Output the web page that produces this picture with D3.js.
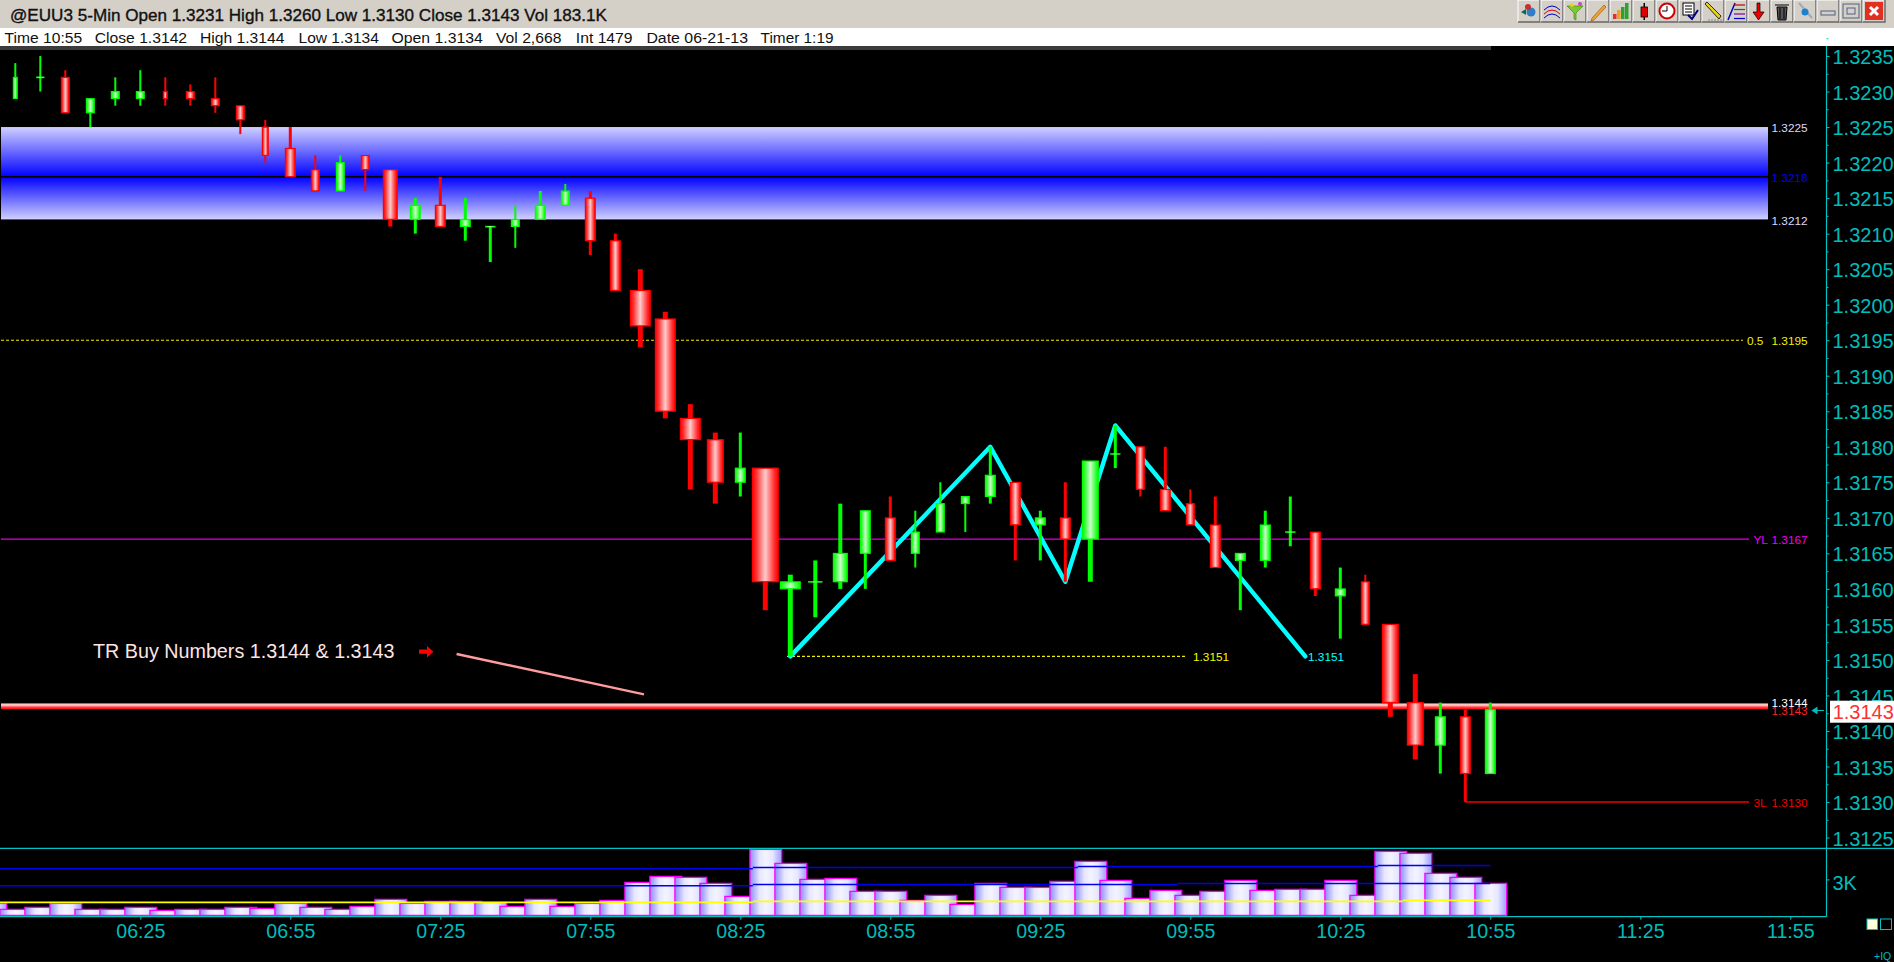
<!DOCTYPE html>
<html>
<head>
<meta charset="utf-8">
<title>@EUU3 5-Min</title>
<script src="https://cdn.jsdelivr.net/npm/d3@7/dist/d3.min.js"></script>
<style>
html,body{margin:0;padding:0;background:#000;overflow:hidden}
svg{display:block;font-family:"Liberation Sans",Arial,sans-serif}
</style>
</head>
<body>
<svg id="chart" width="1894" height="962"></svg>
<script>
// ---------- data ----------
const opens  = [1.3229,1.3232,1.3232,1.3227,1.3229,1.3229,1.3230,1.3230,1.3229,1.3228,1.3225,1.3222,1.3219,1.3216,1.3221,1.3219,1.3212,1.3214,1.3211,1.3211,1.3211,1.3212,1.3214,1.3215,1.3209,1.3202,1.3198,1.3184,1.3181,1.3175,1.3177,1.3160,1.3161,1.3161,1.3165,1.3170,1.3165,1.3168,1.3172,1.3173,1.3175,1.3169,1.3170,1.3167,1.3179,1.3180,1.3174,1.3172,1.3169,1.3164,1.3164,1.3168,1.3168,1.3159,1.3161,1.3155,1.3144,1.3138,1.3142,1.3134];
const highs  = [1.3234,1.3235,1.3233,1.3229,1.3232,1.3233,1.3232,1.3231,1.3232,1.3228,1.3226,1.3225,1.3221,1.3221,1.3221,1.3219,1.3215,1.3218,1.3215,1.3211,1.3214,1.3216,1.3217,1.3216,1.3210,1.3205,1.3199,1.3186,1.3182,1.3182,1.3177,1.3162,1.3164,1.3172,1.3171,1.3173,1.3171,1.3175,1.3173,1.3180,1.3175,1.3171,1.3175,1.3178,1.3183,1.3180,1.3180,1.3174,1.3173,1.3165,1.3171,1.3173,1.3168,1.3163,1.3162,1.3155,1.3148,1.3144,1.3143,1.3144];
const lows   = [1.3229,1.3230,1.3227,1.3225,1.3228,1.3228,1.3228,1.3228,1.3227,1.3224,1.3220,1.3218,1.3216,1.3216,1.3216,1.3211,1.3210,1.3211,1.3209,1.3206,1.3208,1.3212,1.3214,1.3207,1.3202,1.3194,1.3184,1.3174,1.3172,1.3173,1.3157,1.31505,1.3156,1.3160,1.3160,1.3164,1.3163,1.3168,1.3168,1.3172,1.3164,1.3164,1.3161,1.3161,1.3177,1.3173,1.3171,1.3169,1.3163,1.3157,1.3163,1.3166,1.3159,1.3153,1.3155,1.3142,1.3136,1.3134,1.3130,1.3134];
const closes = [1.3232,1.3232,1.3227,1.3229,1.3230,1.3230,1.3229,1.3229,1.3228,1.3226,1.3221,1.3218,1.3216,1.3220,1.3219,1.3212,1.3214,1.3211,1.3212,1.3211,1.3212,1.3214,1.3216,1.3209,1.3202,1.3197,1.3185,1.3181,1.3175,1.3177,1.3161,1.3161,1.3161,1.3165,1.3171,1.3164,1.3168,1.3172,1.3173,1.3176,1.3169,1.3170,1.3167,1.3178,1.3179,1.3174,1.3171,1.3169,1.3163,1.3165,1.3169,1.3168,1.3160,1.3160,1.3155,1.3144,1.3138,1.3142,1.3134,1.3143];
const candleStartMinute = 360;          // 06:00
const barMinutes = 5;
// first volume bar belongs to 05:55, one bar before the first visible candle
const volumes = [1000,500,667,1000,500,500,667,417,500,500,667,583,1000,667,500,750,1333,1000,1167,1167,1083,750,1333,750,1000,1250,2750,3250,3167,2667,1583,5500,4333,3000,3083,2000,2000,1250,1667,917,2667,2333,2333,2833,4500,2917,1417,2083,1667,2000,2917,2083,2167,2167,2917,1667,5333,5167,3500,3167,2668];
const volumeStartMinute = 355;

const zigzagBars   = [31, 39, 42, 44, 51.6];
const zigzagPrices = [1.31505, 1.3180, 1.3161, 1.3183, 1.31505];

const priceTicks = [1.3235,1.3230,1.3225,1.3220,1.3215,1.3210,1.3205,1.3200,1.3195,1.3190,1.3185,1.3180,1.3175,1.3170,1.3165,1.3160,1.3155,1.3150,1.3145,1.3140,1.3135,1.3130,1.3125];
const priceMinorTicks = [1.32375,1.32325,1.32275,1.32225,1.32175,1.32125,1.32075,1.32025,1.31975,1.31925,1.31875,1.31825,1.31775,1.31725,1.31675,1.31625,1.31575,1.31525,1.31475,1.31425,1.31375,1.31325,1.31275];
const timeTicks = [385,415,445,475,505,535,565,595,625,655,685,715];
const volumeTicks = [3000];

// stepped volume averages: segment end (bar index) and level
const volUpperEnds = [29.5,42.5,54.5,59];   const volUpper = [3883,3998,4083,4167];
const volMidEnds   = [29.5,46.5,59];        const volMid   = [2467,2583,2667];
const volLowEnds   = [29.5,55.5,59];        const volLow   = [1083,1167,1250];

const zoneTop = 1.3225, zoneMid = 1.3218, zoneBottom = 1.3212;
const halfLevel = 1.3195, yesterdayLow = 1.3167, threeLow = 1.3130, swingLow = 1.31505;
const buyHigh = 1.3144, buyLow = 1.3143, lastPrice = 1.3143;

const titleText = "@EUU3 5-Min Open 1.3231 High 1.3260 Low 1.3130 Close 1.3143 Vol 183.1K";
const statusItems = ["Time 10:55","Close 1.3142","High 1.3144","Low 1.3134","Open 1.3134","Vol 2,668","Int 1479","Date 06-21-13","Timer 1:19"];

// ---------- styling of the drawing ----------
const candleBodyPx = [5,9,9,9,9,9,5,9,9,9,7,11,9,9,9,15,11,11,11,11,9,11,9,11,11,21,21,21,17,11,27,21,15,15,11,11,9,9,9,11,11,11,11,17,11,9,11,9,11,11,11,11,11,11,9,17,17,11,11,11];
const wickPx = d3.scaleThreshold().domain([11,15,17]).range([2,3,4,5]);
const statusX = [4.6,94.7,200,298.5,391.5,496,575.8,646.4,760.6];
const statusW = [77.5,92.4,84.4,80.4,91.3,65.4,56.8,101.6,72.9];
const CYAN = "#00bcbc", LINE = "#00c4c4", ZIG = "#00ffff", MAG = "#ff00ff", RED="#ff0000", GREEN="#00ff00";

const svg = d3.select("#chart");
const defs = svg.append("defs");
function grad(id, stops, vertical){
  const g = defs.append("linearGradient").attr("id",id)
    .attr("x1",0).attr("y1",0).attr("x2",vertical?0:1).attr("y2",vertical?1:0);
  stops.forEach(s=>g.append("stop").attr("offset",s[0]).attr("stop-color",s[1]));
}
grad("gRed",[[0,"#ff0000"],[0.15,"#ff3030"],[0.5,"#ffcccc"],[0.85,"#ff3030"],[1,"#ff0000"]]);
grad("gGreen",[[0,"#00ff00"],[0.15,"#30ff30"],[0.5,"#ccffcc"],[0.85,"#30ff30"],[1,"#00ff00"]]);
grad("gVol",[[0,"#8c8cff"],[0.3,"#e6e6ff"],[0.5,"#f4f4ff"],[0.72,"#e6e6ff"],[1,"#9c9cff"]]);
grad("gZoneTop",[[0,"#d0d0ff"],[1,"#0000ff"]],true);
grad("gZoneBot",[[0,"#0000ff"],[1,"#d0d0ff"]],true);
grad("gBuy",[[0,"#ff9a9a"],[0.28,"#ffd8d8"],[0.65,"#ff4040"],[1,"#ff0000"]],true);

const xPx = m => 15.3 + (m - candleStartMinute) / barMinutes * 25;
const x = d3.scaleLinear().domain([candleStartMinute, candleStartMinute + 365]).range([xPx(candleStartMinute), xPx(candleStartMinute+365)]);
const barX = i => x(candleStartMinute + i * barMinutes);
const y = d3.scaleLinear().domain([1.3235, 1.3125]).range([56, 56 + 0.011 * 71050]);
const yv = d3.scaleLinear().domain([0, 3000]).range([915.4, 879.4]);

// ---------- window chrome ----------
svg.append("rect").attr("width",1894).attr("height",962).attr("fill","#000");
svg.append("rect").attr("width",1894).attr("height",28).attr("fill","#d4d0c8");
svg.append("rect").attr("y",28).attr("width",1894).attr("height",18).attr("fill","#fff");
svg.append("rect").attr("y",46).attr("width",1491).attr("height",4).attr("fill","#3c3c3c");
svg.append("text").attr("x",10).attr("y",21).attr("font-size",16.5).attr("fill","#111").attr("stroke","#111").attr("stroke-width",0.35)
  .attr("textLength",597).attr("lengthAdjust","spacingAndGlyphs").text(titleText);
statusItems.forEach((t,i)=>svg.append("text").attr("x",statusX[i]).attr("y",43.4).attr("font-size",15.5).attr("fill","#111")
  .attr("textLength",statusW[i]).attr("lengthAdjust","spacingAndGlyphs").text(t));

// toolbar buttons
const tb = svg.append("g");
const iconDraw = [
 g=>{g.append("circle").attr("cx",13).attr("cy",12).attr("r",4.5).attr("fill","#2f7fc8");g.append("path").attr("d","M3 12l5-3v6z").attr("fill","#0a6a50");g.append("circle").attr("cx",10).attr("cy",7).attr("r",3).attr("fill","#c83030");},
 g=>{["#0000d0","#e00000","#0000d0"].forEach((c,k)=>g.append("path").attr("d",`M3 ${10+k*4}Q11 ${2+k*4} 19 ${10+k*4}`).attr("fill","none").attr("stroke",c));},
 g=>{g.append("path").attr("d","M3 6H19L12 13V20L10 19V13Z").attr("fill","#7cc830").attr("stroke","#3a7a10").attr("stroke-width",.6);g.append("circle").attr("cx",8).attr("cy",5).attr("r",2).attr("fill","#e8d030");g.append("circle").attr("cx",16).attr("cy",4).attr("r",2).attr("fill","#d040c0");},
 g=>{g.append("path").attr("d","M5 18L17 5l2 2L7 20l-3 1z").attr("fill","#f0a030").attr("stroke","#905010").attr("stroke-width",.6);},
 g=>{[["#e03030",14],["#f0a020",10],["#30a030",7],["#30a030",3]].forEach((d,k)=>g.append("rect").attr("x",3+k*4).attr("y",d[1]).attr("width",3.5).attr("height",19-d[1]).attr("fill",d[0]));},
 g=>{g.append("rect").attr("x",10.5).attr("y",3).attr("width",1.5).attr("height",17).attr("fill","#000");g.append("rect").attr("x",8).attr("y",7).attr("width",6.5).attr("height",10).attr("fill","#e00000").attr("stroke","#000").attr("stroke-width",.8);},
 g=>{g.append("circle").attr("cx",11).attr("cy",11).attr("r",7.5).attr("fill","#fff").attr("stroke","#d00000").attr("stroke-width",2);g.append("path").attr("d","M11 11V6M11 11H6").attr("stroke","#000").attr("fill","none");},
 g=>{g.append("rect").attr("x",4).attr("y",3).attr("width",11).attr("height",12).attr("fill","#fff").attr("stroke","#000");g.append("path").attr("d","M6 6H13M6 9H13M6 12H13").attr("stroke","#000");g.append("path").attr("d","M9 15l4 4 6-9").attr("stroke","#000080").attr("stroke-width",2).attr("fill","none");},
 g=>{g.append("path").attr("d","M3 4L5 2l14 14-2 3z").attr("fill","#e8d020").attr("stroke","#000").attr("stroke-width",.8);g.append("path").attr("d","M6 20H20").attr("stroke","#888").attr("stroke-dasharray","2 1");},
 g=>{g.append("path").attr("d","M3 20L10 3").attr("stroke","#0000d0").attr("stroke-width",1.5);["#c00000","#008000","#8000a0","#0000d0"].forEach((c,k)=>g.append("path").attr("d",`M9 ${5+k*4.5}H20`).attr("stroke",c).attr("stroke-width",1.2));},
 g=>{g.append("path").attr("d","M9 3h3v9h4l-5.5 8L5 12h4z").attr("fill","#f00000").attr("stroke","#000").attr("stroke-width",.7);},
 g=>{g.append("path").attr("d","M6 7h10l-1 13H7z").attr("fill","#555").attr("stroke","#000");g.append("path").attr("d","M4 5h14M9 8v11M13 8v11").attr("stroke","#000");},
 g=>{g.append("path").attr("d","M5 3l13 15").attr("stroke","#a0a8c0").attr("stroke-width",2);g.append("circle").attr("cx",11).attr("cy",12).attr("r",3.5).attr("fill","#2080d0");},
 g=>{g.append("rect").attr("x",4).attr("y",11).attr("width",14).attr("height",4).attr("fill","#d4d0c8").attr("stroke","#506080");},
 g=>{g.append("rect").attr("x",3).attr("y",4).attr("width",16).attr("height",14).attr("fill","none").attr("stroke","#506080");g.append("rect").attr("x",7).attr("y",8).attr("width",8).attr("height",6).attr("fill","none").attr("stroke","#506080");},
 g=>{g.append("rect").attr("x",2).attr("y",2).attr("width",18).attr("height",18).attr("fill","#e03020");g.append("path").attr("d","M7 7l8 8M15 7l-8 8").attr("stroke","#fff").attr("stroke-width",3);}
];
iconDraw.forEach((draw,i)=>{
  const g = tb.append("g").attr("transform",`translate(${1518+i*23},0)`);
  g.append("rect").attr("width",22).attr("height",22).attr("fill","#d4d0c8");
  g.append("path").attr("d","M0 22V0H22").attr("fill","none").attr("stroke","#fff");
  g.append("path").attr("d","M22 0V22H0").attr("fill","none").attr("stroke","#666").attr("stroke-width",1.4);
  draw(g);
});

// ---------- levels behind the candles ----------
const levels = svg.append("g");
levels.append("rect").attr("x",1).attr("y",y(zoneTop)).attr("width",1767).attr("height",y(zoneMid)-y(zoneTop)).attr("fill","url(#gZoneTop)");
levels.append("rect").attr("x",1).attr("y",y(zoneMid)).attr("width",1767).attr("height",y(zoneBottom)-y(zoneMid)).attr("fill","url(#gZoneBot)");
levels.append("line").attr("x1",1).attr("x2",1768).attr("y1",y(zoneMid)).attr("y2",y(zoneMid)).attr("stroke","#000").attr("stroke-width",1.4);
levels.append("line").attr("x1",1).attr("x2",1743).attr("y1",y(halfLevel)).attr("y2",y(halfLevel)).attr("stroke","#f0f000").attr("stroke-dasharray","3 2").attr("stroke-width",1.1);
levels.append("line").attr("x1",1).attr("x2",1749).attr("y1",y(yesterdayLow)).attr("y2",y(yesterdayLow)).attr("stroke","#e000e0").attr("stroke-width",1.2);
levels.append("line").attr("x1",barX(58)).attr("x2",1749).attr("y1",y(threeLow)).attr("y2",y(threeLow)).attr("stroke","#f00000").attr("stroke-width",1.4);
levels.append("line").attr("x1",787).attr("x2",1187).attr("y1",y(swingLow)).attr("y2",y(swingLow)).attr("stroke","#f0f000").attr("stroke-dasharray","3 2").attr("stroke-width",1.1);
levels.append("rect").attr("x",1).attr("y",y(buyHigh)+0.8).attr("width",1767).attr("height",y(buyLow)-y(buyHigh)-1.2).attr("fill","url(#gBuy)");

// zigzag
levels.append("path")
  .datum(zigzagBars.map((b,i)=>[b,zigzagPrices[i]]))
  .attr("d",d3.line().x(d=>barX(d[0])).y(d=>y(d[1])))
  .attr("fill","none").attr("stroke",ZIG).attr("stroke-width",4.4).attr("stroke-linejoin","round").attr("stroke-linecap","round");

// ---------- candles ----------
const candleData = d3.range(opens.length).map(i=>({i,o:opens[i],h:highs[i],l:lows[i],c:closes[i],w:candleBodyPx[i]}));
const candles = svg.append("g").selectAll("g").data(candleData).join("g");
const col = d => d.c >= d.o ? GREEN : RED;
candles.append("rect").attr("class","wick")
  .attr("x",d=>barX(d.i)-wickPx(d.w)/2).attr("width",d=>wickPx(d.w))
  .attr("y",d=>y(d.h)).attr("height",d=>y(d.l)-y(d.h)).attr("fill",col);
candles.append("rect").attr("class","body")
  .attr("x",d=>barX(d.i)-d.w/2+0.6).attr("width",d=>d.w-1.2)
  .attr("y",d=>d.o===d.c ? y(d.o)-0.5 : y(Math.max(d.o,d.c))+0.1)
  .attr("height",d=>d.o===d.c ? 1.2 : Math.abs(y(d.o)-y(d.c))-0.2)
  .attr("fill",d=>d.c>=d.o?"url(#gGreen)":"url(#gRed)")
  .attr("stroke",col).attr("stroke-width",d=>d.o===d.c?0.4:1.2);

// ---------- annotation ----------
svg.append("text").attr("x",93).attr("y",658.4).attr("font-size",19.6).attr("fill","#ffe4e4")
  .attr("textLength",301.5).attr("lengthAdjust","spacingAndGlyphs").text("TR Buy Numbers 1.3144 & 1.3143");
svg.append("path").attr("d","M419 649.6H427V646L433.5 651.7L427 657.4V653.8H419Z").attr("fill","#ff0000");
svg.append("line").attr("x1",456.6).attr("y1",654).attr("x2",644).attr("y2",694.3).attr("stroke","#ff9c9c").attr("stroke-width",2.4);

// small level labels
const small = (tx,ty,t,c)=>svg.append("text").attr("x",tx).attr("y",ty).attr("font-size",11.8).attr("fill",c).text(t);
small(1771.5,131.5,"1.3225","#d8d8ff");
small(1771.5,181.5,"1.3218","#0000f0");
small(1771.5,224.5,"1.3212","#d8d8ff");
small(1747,345,"0.5","#f0f000"); small(1771.5,345,"1.3195","#f0f000");
small(1753.5,544,"YL","#f000f0"); small(1771.5,544,"1.3167","#f000f0");
small(1753.5,807,"3L","#f00000"); small(1771.5,807,"1.3130","#f00000");
small(1193,661,"1.3151","#f8f800");
small(1308,661,"1.3151",ZIG);
small(1771.5,706.5,"1.3144","#ffffff");
small(1771.5,715,"1.3143","#ff2020");

// ---------- volume panel ----------
const volData = volumes.map((v,i)=>({v,m:volumeStartMinute+i*barMinutes}));
svg.append("g").selectAll("rect").data(volData).join("rect")
  .attr("x",d=>x(d.m)-15.4).attr("width",31.8)
  .attr("y",d=>yv(d.v)).attr("height",d=>yv(0)-yv(d.v))
  .attr("fill","url(#gVol)").attr("stroke",MAG).attr("stroke-width",1.3);

function stepped(ends, levelsArr, color, width){
  let from = -0.62;
  ends.forEach((e,k)=>{
    svg.append("line").attr("x1",barX(from)).attr("x2",barX(e))
      .attr("y1",yv(levelsArr[k])).attr("y2",yv(levelsArr[k]))
      .attr("stroke",color).attr("stroke-width",width);
    from = e;
  });
}
stepped(volUpperEnds,volUpper,"#0000f0",1.5);
stepped(volMidEnds,volMid,"#0000f0",1.5);
stepped(volLowEnds,volLow,"#ffff00",1.6);

// ---------- axes ----------
const axisG = svg.append("g");
function styleAxis(g){
  g.select(".domain").remove();
  g.selectAll("line").attr("stroke",LINE).attr("stroke-width",1);
  g.selectAll("text").attr("fill",CYAN).attr("font-family","'Liberation Sans',Arial,sans-serif");
}
const yAxis = axisG.append("g").attr("transform","translate(1826.5,0)")
  .call(d3.axisRight(y).tickValues(priceTicks).tickSize(3).tickPadding(3).tickFormat(d3.format(".4f")));
yAxis.selectAll("text").attr("font-size",20).attr("dy","0.38em");
styleAxis(yAxis);
yAxis.attr("font-size",20);
const yMinor = axisG.append("g").attr("transform","translate(1826.5,0)")
  .call(d3.axisRight(d3.scaleLinear().domain(y.domain()).range(y.range())).tickValues(priceMinorTicks.filter(p=>p<=1.32375)).tickSize(2).tickFormat(""));
styleAxis(yMinor);
const xAxis = axisG.append("g").attr("transform","translate(0,916.7)")
  .call(d3.axisBottom(x).tickValues(timeTicks).tickSize(3).tickPadding(4)
    .tickFormat(m=>d3.format("02d")(Math.floor(m/60))+":"+d3.format("02d")(m%60)));
xAxis.selectAll("text").attr("font-size",19.6);
styleAxis(xAxis);
xAxis.attr("font-size",19.6);
const vAxis = axisG.append("g").attr("transform","translate(1826.5,0)")
  .call(d3.axisRight(yv).tickValues(volumeTicks).tickSize(3).tickPadding(3).tickFormat(v=>(v/1000)+"K"));
vAxis.selectAll("text").attr("font-size",20).attr("dy","0.5em");
styleAxis(vAxis);
vAxis.attr("font-size",20);

axisG.append("line").attr("x1",1826.5).attr("x2",1826.5).attr("y1",46).attr("y2",916.7).attr("stroke",LINE).attr("stroke-width",1.2);
axisG.append("line").attr("x1",0).attr("x2",1894).attr("y1",848.4).attr("y2",848.4).attr("stroke",LINE).attr("stroke-width",1.2);
axisG.append("line").attr("x1",0).attr("x2",1826.5).attr("y1",916.7).attr("y2",916.7).attr("stroke",LINE).attr("stroke-width",1.2);

// last price box and arrow
svg.append("rect").attr("x",1830).attr("y",700.7).attr("width",64).attr("height",22).attr("fill","#fff");
svg.append("text").attr("x",1832.7).attr("y",719).attr("font-size",20).attr("fill","#ff3030").text(d3.format(".4f")(lastPrice));
svg.append("path").attr("d","M1811.5 710.5L1817.5 706.5V709.9H1824V711.1H1817.5V714.5Z").attr("fill",CYAN);

// corner widgets
svg.append("rect").attr("x",1867).attr("y",919).attr("width",10.5).attr("height",10.5).attr("fill","#ffffd8").attr("stroke",LINE);
svg.append("rect").attr("x",1880.5).attr("y",919).attr("width",11).attr("height",10.5).attr("fill","#000").attr("stroke",LINE);
svg.append("text").attr("x",1874).attr("y",959.5).attr("font-size",10.5).attr("fill",CYAN).text("+IQ");
</script>
</body>
</html>
